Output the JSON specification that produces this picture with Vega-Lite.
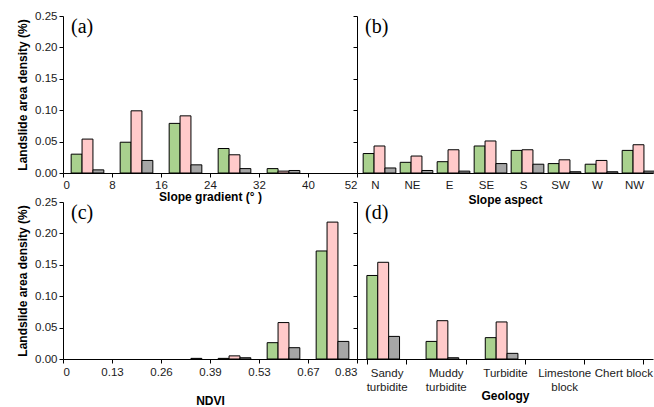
{
  "$schema": "https://vega.github.io/schema/vega-lite/v6.json",
  "padding": {"left": 16, "top": 10, "right": 0, "bottom": 0},
  "background": "#ffffff",
  "config": {
    "view": {"stroke": null},
    "axis": {"domainColor": "#000000", "tickColor": "#000000", "labelColor": "#1a1a1a", "titleColor": "#000000", "labelFont": "Liberation Sans", "titleFont": "Liberation Sans", "labelFontSize": 11.5, "titleFontSize": 12, "titleFontWeight": "bold", "grid": false, "tickSize": 4, "domainWidth": 1, "tickWidth": 1},
    "title": {"font": "Liberation Serif", "fontSize": 20, "fontWeight": "normal", "anchor": "start", "color": "#000000", "orient": "top", "frame": "group"}
  },
  "datasets": {
    "a": [
      {"cat": "0-8", "series": "Series 1", "v": 0.030}, {"cat": "0-8", "series": "Series 2", "v": 0.054}, {"cat": "0-8", "series": "Series 3", "v": 0.005},
      {"cat": "8-16", "series": "Series 1", "v": 0.049}, {"cat": "8-16", "series": "Series 2", "v": 0.099}, {"cat": "8-16", "series": "Series 3", "v": 0.020},
      {"cat": "16-24", "series": "Series 1", "v": 0.079}, {"cat": "16-24", "series": "Series 2", "v": 0.091}, {"cat": "16-24", "series": "Series 3", "v": 0.013},
      {"cat": "24-32", "series": "Series 1", "v": 0.039}, {"cat": "24-32", "series": "Series 2", "v": 0.029}, {"cat": "24-32", "series": "Series 3", "v": 0.007},
      {"cat": "32-40", "series": "Series 1", "v": 0.007}, {"cat": "32-40", "series": "Series 2", "v": 0.003}, {"cat": "32-40", "series": "Series 3", "v": 0.004},
      {"cat": "40-52", "series": "Series 1", "v": 0}, {"cat": "40-52", "series": "Series 2", "v": 0}, {"cat": "40-52", "series": "Series 3", "v": 0}
    ],
    "b": [
      {"cat": "N", "series": "Series 1", "v": 0.031}, {"cat": "N", "series": "Series 2", "v": 0.043}, {"cat": "N", "series": "Series 3", "v": 0.008},
      {"cat": "NE", "series": "Series 1", "v": 0.017}, {"cat": "NE", "series": "Series 2", "v": 0.027}, {"cat": "NE", "series": "Series 3", "v": 0.004},
      {"cat": "E", "series": "Series 1", "v": 0.018}, {"cat": "E", "series": "Series 2", "v": 0.037}, {"cat": "E", "series": "Series 3", "v": 0.003},
      {"cat": "SE", "series": "Series 1", "v": 0.043}, {"cat": "SE", "series": "Series 2", "v": 0.051}, {"cat": "SE", "series": "Series 3", "v": 0.015},
      {"cat": "S", "series": "Series 1", "v": 0.036}, {"cat": "S", "series": "Series 2", "v": 0.037}, {"cat": "S", "series": "Series 3", "v": 0.014},
      {"cat": "SW", "series": "Series 1", "v": 0.015}, {"cat": "SW", "series": "Series 2", "v": 0.021}, {"cat": "SW", "series": "Series 3", "v": 0.002},
      {"cat": "W", "series": "Series 1", "v": 0.014}, {"cat": "W", "series": "Series 2", "v": 0.020}, {"cat": "W", "series": "Series 3", "v": 0.002},
      {"cat": "NW", "series": "Series 1", "v": 0.036}, {"cat": "NW", "series": "Series 2", "v": 0.045}, {"cat": "NW", "series": "Series 3", "v": 0.003}
    ],
    "c": [
      {"cat": "0-0.13", "series": "Series 1", "v": 0}, {"cat": "0-0.13", "series": "Series 2", "v": 0}, {"cat": "0-0.13", "series": "Series 3", "v": 0},
      {"cat": "0.13-0.26", "series": "Series 1", "v": 0}, {"cat": "0.13-0.26", "series": "Series 2", "v": 0}, {"cat": "0.13-0.26", "series": "Series 3", "v": 0},
      {"cat": "0.26-0.39", "series": "Series 1", "v": 0}, {"cat": "0.26-0.39", "series": "Series 2", "v": 0}, {"cat": "0.26-0.39", "series": "Series 3", "v": 0.001},
      {"cat": "0.39-0.53", "series": "Series 1", "v": 0.001}, {"cat": "0.39-0.53", "series": "Series 2", "v": 0.005}, {"cat": "0.39-0.53", "series": "Series 3", "v": 0.002},
      {"cat": "0.53-0.67", "series": "Series 1", "v": 0.026}, {"cat": "0.53-0.67", "series": "Series 2", "v": 0.058}, {"cat": "0.53-0.67", "series": "Series 3", "v": 0.018},
      {"cat": "0.67-0.83", "series": "Series 1", "v": 0.172}, {"cat": "0.67-0.83", "series": "Series 2", "v": 0.218}, {"cat": "0.67-0.83", "series": "Series 3", "v": 0.028}
    ],
    "d": [
      {"cat": "Sandy turbidite", "series": "Series 1", "v": 0.133}, {"cat": "Sandy turbidite", "series": "Series 2", "v": 0.154}, {"cat": "Sandy turbidite", "series": "Series 3", "v": 0.036},
      {"cat": "Muddy turbidite", "series": "Series 1", "v": 0.028}, {"cat": "Muddy turbidite", "series": "Series 2", "v": 0.061}, {"cat": "Muddy turbidite", "series": "Series 3", "v": 0.002},
      {"cat": "Turbidite", "series": "Series 1", "v": 0.034}, {"cat": "Turbidite", "series": "Series 2", "v": 0.059}, {"cat": "Turbidite", "series": "Series 3", "v": 0.009},
      {"cat": "Limestone block", "series": "Series 1", "v": 0}, {"cat": "Limestone block", "series": "Series 2", "v": 0}, {"cat": "Limestone block", "series": "Series 3", "v": 0},
      {"cat": "Chert block", "series": "Series 1", "v": 0}, {"cat": "Chert block", "series": "Series 2", "v": 0}, {"cat": "Chert block", "series": "Series 3", "v": 0}
    ],
    "ticksA": [{"t": 0}, {"t": 1}, {"t": 2}, {"t": 3}, {"t": 4}, {"t": 5}, {"t": 6}]
  },
  "bounds": "flush",
  "spacing": 186,
  "vconcat": [
    {
      "bounds": "flush",
      "spacing": 0,
      "hconcat": [
        {
          "width": 294, "height": 157,
          "title": {"text": "(a)", "dx": 8, "offset": -27},
          "layer": [
            {
              "data": {"name": "a"},
              "mark": {"type": "bar", "stroke": "#000000", "strokeWidth": 1},
              "encoding": {
                "x": {"field": "cat", "type": "nominal", "sort": null, "axis": null, "scale": {"paddingInner": 0.3333, "paddingOuter": 0.1667}},
                "xOffset": {"field": "series", "type": "nominal", "sort": null, "scale": {"paddingInner": 0, "paddingOuter": 0}},
                "y": {"field": "v", "type": "quantitative", "scale": {"domain": [0, 0.25], "nice": false}, "axis": {"values": [0, 0.05, 0.1, 0.15, 0.2, 0.25], "format": ".2f", "title": "Landslide area density (%)", "titlePadding": 5}},
                "fill": {"field": "series", "type": "nominal", "scale": {"domain": ["Series 1", "Series 2", "Series 3"], "range": ["#a9d18e", "#ffcaca", "#a6a6a6"]}, "legend": null},
                "strokeOpacity": {"condition": {"test": "datum.v > 0", "value": 1}, "value": 0}
              }
            },
            {
              "data": {"name": "ticksA"},
              "mark": {"type": "tick", "opacity": 0},
              "encoding": {
                "x": {"field": "t", "type": "quantitative", "scale": {"domain": [0, 6], "nice": false}, "axis": {"orient": "bottom", "values": [0, 1, 2, 3, 4, 5, 6], "labelExpr": "['0','8','16','24','32','40','52'][datum.value]", "title": "Slope gradient (° )", "titlePadding": 1, "labelPadding": 2}}
              }
            }
          ],
          "resolve": {"scale": {"x": "independent"}}
        },
        {
          "width": 296, "height": 157,
          "title": {"text": "(b)", "dx": 8, "offset": -21},
          "data": {"name": "b"},
          "mark": {"type": "bar", "stroke": "#000000", "strokeWidth": 1},
          "encoding": {
            "x": {"field": "cat", "type": "nominal", "sort": null, "scale": {"paddingInner": 0.3333, "paddingOuter": 0.1667}, "axis": {"labelAngle": 0, "ticks": false, "labelPadding": 6, "title": "Slope aspect", "titlePadding": 4}},
            "xOffset": {"field": "series", "type": "nominal", "sort": null, "scale": {"paddingInner": 0, "paddingOuter": 0}},
            "y": {"field": "v", "type": "quantitative", "scale": {"domain": [0, 0.25], "nice": false}, "axis": {"values": [0, 0.05, 0.1, 0.15, 0.2, 0.25], "labels": false, "title": null}},
            "fill": {"field": "series", "type": "nominal", "scale": {"domain": ["Series 1", "Series 2", "Series 3"], "range": ["#a9d18e", "#ffcaca", "#a6a6a6"]}, "legend": null},
            "strokeOpacity": {"condition": {"test": "datum.v > 0", "value": 1}, "value": 0}
          }
        }
      ]
    },
    {
      "bounds": "flush",
      "spacing": 0,
      "hconcat": [
        {
          "width": 294, "height": 157,
          "title": {"text": "(c)", "dx": 8, "offset": -27},
          "layer": [
            {
              "data": {"name": "c"},
              "mark": {"type": "bar", "stroke": "#000000", "strokeWidth": 1},
              "encoding": {
                "x": {"field": "cat", "type": "nominal", "sort": null, "axis": null, "scale": {"paddingInner": 0.3333, "paddingOuter": 0.1667}},
                "xOffset": {"field": "series", "type": "nominal", "sort": null, "scale": {"paddingInner": 0, "paddingOuter": 0}},
                "y": {"field": "v", "type": "quantitative", "scale": {"domain": [0, 0.25], "nice": false}, "axis": {"values": [0, 0.05, 0.1, 0.15, 0.2, 0.25], "format": ".2f", "title": "Landslide area density (%)", "titlePadding": 5}},
                "fill": {"field": "series", "type": "nominal", "scale": {"domain": ["Series 1", "Series 2", "Series 3"], "range": ["#a9d18e", "#ffcaca", "#a6a6a6"]}, "legend": null},
                "strokeOpacity": {"condition": {"test": "datum.v > 0", "value": 1}, "value": 0}
              }
            },
            {
              "data": {"name": "ticksA"},
              "mark": {"type": "tick", "opacity": 0},
              "encoding": {
                "x": {"field": "t", "type": "quantitative", "scale": {"domain": [0, 6], "nice": false}, "axis": {"orient": "bottom", "values": [0, 1, 2, 3, 4, 5, 6], "labelExpr": "['0','0.13','0.26','0.39','0.53','0.67','0.83'][datum.value]", "title": "NDVI", "titlePadding": 18, "labelPadding": 3}}
              }
            }
          ],
          "resolve": {"scale": {"x": "independent"}}
        },
        {
          "width": 296, "height": 157,
          "title": {"text": "(d)", "dx": 8, "offset": -21},
          "data": {"name": "d"},
          "mark": {"type": "bar", "stroke": "#000000", "strokeWidth": 1},
          "encoding": {
            "x": {"field": "cat", "type": "nominal", "sort": null, "scale": {"paddingInner": 0.3333, "paddingOuter": 0.1667}, "axis": {"labelAngle": 0, "tickBand": "extent", "tickSize": 5, "labelPadding": 3, "labelLineHeight": 14, "labelExpr": "datum.label == 'Chert block' || datum.label == 'Turbidite' ? datum.label : split(datum.label, ' ')", "title": "Geology", "titlePadding": -2}},
            "xOffset": {"field": "series", "type": "nominal", "sort": null, "scale": {"paddingInner": 0, "paddingOuter": 0}},
            "y": {"field": "v", "type": "quantitative", "scale": {"domain": [0, 0.25], "nice": false}, "axis": {"values": [0, 0.05, 0.1, 0.15, 0.2, 0.25], "labels": false, "title": null}},
            "fill": {"field": "series", "type": "nominal", "scale": {"domain": ["Series 1", "Series 2", "Series 3"], "range": ["#a9d18e", "#ffcaca", "#a6a6a6"]}, "legend": null},
            "strokeOpacity": {"condition": {"test": "datum.v > 0", "value": 1}, "value": 0}
          }
        }
      ]
    }
  ]
}
